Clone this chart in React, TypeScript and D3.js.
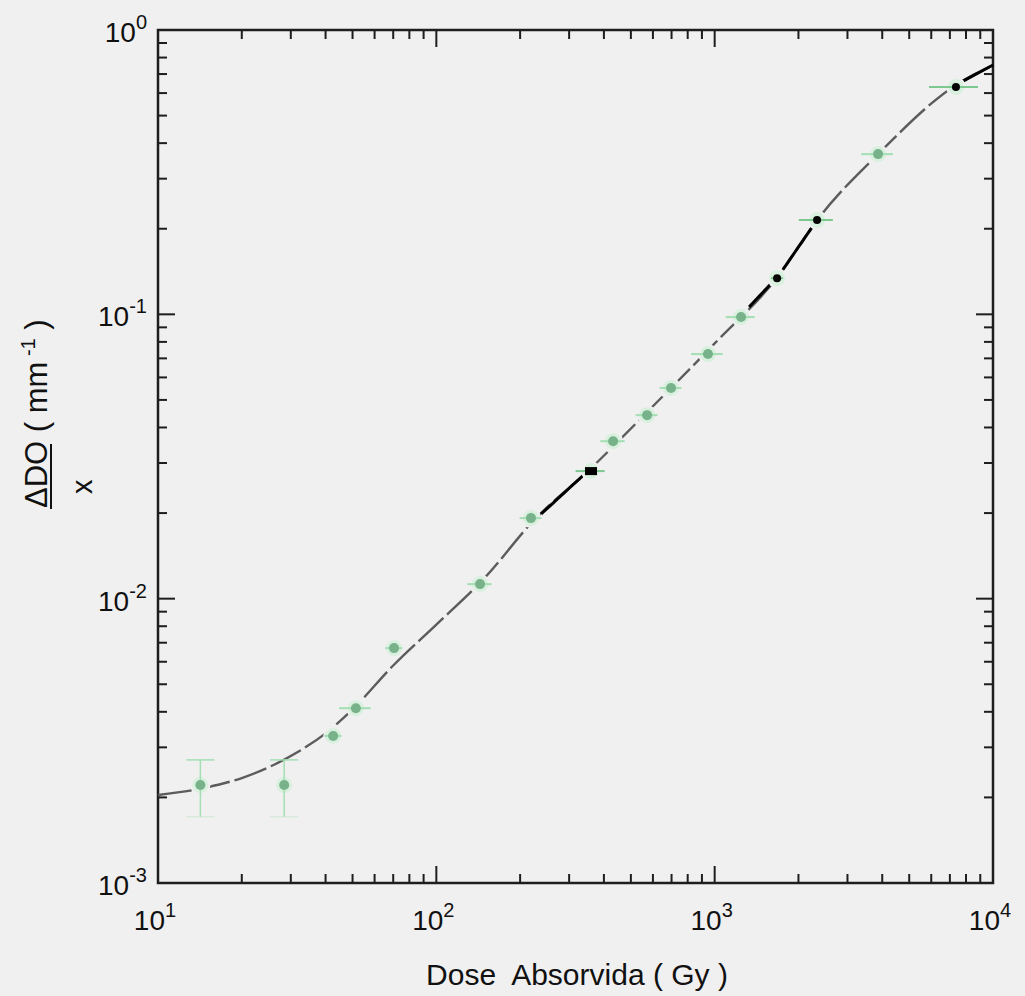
import React from "react";
import * as d3 from "d3";

// Measured response (ΔDO / x) versus absorbed dose
const dose = [14.2, 28.4, 42.6, 51.4, 70.5, 143.6, 218.8, 359.5, 431.7, 571.7, 697, 946, 1244, 1676, 2333, 3864, 7360];
const response = [0.00221, 0.00221, 0.00329, 0.00412, 0.0067, 0.01125, 0.0192, 0.0281, 0.0358, 0.0442, 0.0551, 0.0725, 0.0978, 0.134, 0.2146, 0.366, 0.63];
// relative dose uncertainty (%) and absolute response uncertainty
const doseErrPct = [0, 0, 7, 13, 7, 10, 9, 12, 10, 9, 9, 13, 12, 5, 14, 13, 20];
const responseErr = [0.0005, 0.0005, 0.0001, 0.0001, 0.0002, 0.0002, 0.0003, 0.0004, 0.0005, 0.0005, 0.0006, 0.0008, 0.001, 0.0015, 0.002, 0.004, 0.006];

// Fitted calibration curve
const fitDose = [10, 15, 20, 26, 32, 40, 50, 70, 100, 150, 220, 360, 600, 1000, 1700, 2333, 3864, 7360, 10000];
const fitResponse = [0.00204, 0.00217, 0.00234, 0.0026, 0.0029, 0.00336, 0.00408, 0.00582, 0.0081, 0.0119, 0.0185, 0.0288, 0.0475, 0.079, 0.137, 0.2146, 0.366, 0.641, 0.753];

// Sections of the fit printed in solid black
const blackFitRanges: [number, number][] = [[238, 350], [1330, 1620], [1760, 2300], [7600, 10000]];
// Points printed with dark markers (index into the data arrays)
const darkPoints = [7, 13, 14, 16];

const xDecades = [1, 2, 3, 4];
const yDecades = [0, -1, -2, -3];

const W = 1025;
const H = 996;
const M = { left: 158, right: 993, top: 30, bottom: 883 };
const FONT = "'Liberation Sans', Arial, sans-serif";

export default function App() {
  const x = d3.scaleLog().domain([10, 10000]).range([M.left, M.right]);
  const y = d3.scaleLog().domain([0.001, 1]).range([M.bottom, M.top]);

  const line = d3
    .line<number>()
    .x((_, i) => x(fitDose[i]))
    .y((_, i) => y(fitResponse[i]))
    .curve(d3.curveMonotoneX);
  const fitPath = line(fitDose) || "";

  // log-log interpolation along the fit, for the black sections
  const interp = (d: number) => {
    const ld = Math.log10(d);
    for (let i = 0; i < fitDose.length - 1; i++) {
      const a = Math.log10(fitDose[i]);
      const b = Math.log10(fitDose[i + 1]);
      if (ld >= a && ld <= b) {
        const t = (ld - a) / (b - a);
        return Math.pow(10, Math.log10(fitResponse[i]) * (1 - t) + Math.log10(fitResponse[i + 1]) * t);
      }
    }
    return fitResponse[fitResponse.length - 1];
  };
  const blackSegs = blackFitRanges.map(([a, b]) => {
    const n = 12;
    const pts: [number, number][] = d3.range(n + 1).map((k) => {
      const d = Math.pow(10, Math.log10(a) + (Math.log10(b) - Math.log10(a)) * (k / n));
      return [x(d), y(interp(d))];
    });
    return d3.line()(pts) || "";
  });

  const xTicks = x.ticks();
  const yTicks = y.ticks();
  const isMajor = (v: number) => Math.abs(Math.log10(v) - Math.round(Math.log10(v))) < 1e-6;
  const axisColor = "#1e1e1e";
  const green = "#a3dfb3";

  return (
    <svg
      width={W}
      height={H}
      style={{ position: "absolute", left: 0, top: 0, display: "block" }}
      fontFamily={FONT}
    >
      <rect x={0} y={0} width={W} height={H} fill="#f0f0f0" />

      {/* frame */}
      <rect
        x={M.left}
        y={M.top}
        width={M.right - M.left}
        height={M.bottom - M.top}
        fill="none"
        stroke={axisColor}
        strokeWidth={2.5}
      />

      {/* x ticks, bottom and top, pointing inward */}
      {xTicks.map((t, i) => {
        const len = isMajor(t) ? 17 : 9;
        const px = x(t);
        return (
          <g key={"xt" + i} stroke={axisColor} strokeWidth={2}>
            <line x1={px} x2={px} y1={M.bottom} y2={M.bottom - len} />
            <line x1={px} x2={px} y1={M.top} y2={M.top + len} />
          </g>
        );
      })}
      {/* y ticks, left and right */}
      {yTicks.map((t, i) => {
        const len = isMajor(t) ? 17 : 9;
        const py = y(t);
        return (
          <g key={"yt" + i} stroke={axisColor} strokeWidth={2}>
            <line x1={M.left} x2={M.left + len} y1={py} y2={py} />
            <line x1={M.right} x2={M.right - len} y1={py} y2={py} />
          </g>
        );
      })}

      {/* x tick labels */}
      {xDecades.map((e) => (
        <text key={"xl" + e} x={x(Math.pow(10, e)) - 3} y={930} fontSize={28} textAnchor="middle" fill="#111">
          10
          <tspan dy={-13} fontSize={20}>
            {e}
          </tspan>
        </text>
      ))}
      {/* y tick labels */}
      {yDecades.map((e) => (
        <text key={"yl" + e} x={M.left - 11} y={y(Math.pow(10, e)) + 12} fontSize={28} textAnchor="end" fill="#111">
          10
          <tspan dy={-13} fontSize={20}>
            {e === 0 ? "0" : "-" + Math.abs(e)}
          </tspan>
        </text>
      ))}

      {/* axis titles */}
      <text x={577} y={985} fontSize={30} textAnchor="middle" fill="#111" style={{ whiteSpace: "pre" }}>
        {"Dose  Absorvida ( Gy )"}
      </text>
      <g fill="#111">
        <text transform="translate(47,508) rotate(-90)" fontSize={31} style={{ whiteSpace: "pre" }}>
          {"ΔDO ( mm"}
          <tspan dy={-12} fontSize={20}>
            {" -1"}
          </tspan>
          <tspan dy={12}>{" )"}</tspan>
        </text>
        <line x1={51} x2={51} y1={444} y2={509} stroke="#111" strokeWidth={2} />
        <text transform="translate(92,494) rotate(-90)" fontSize={29}>
          x
        </text>
      </g>

      {/* fitted curve */}
      <path d={fitPath} fill="none" stroke="#5c5c5c" strokeWidth={2.4} strokeDasharray="34 5" />
      {blackSegs.map((d, i) => (
        <path key={"bs" + i} d={d} fill="none" stroke="#000" strokeWidth={3} />
      ))}

      {/* data points with uncertainties */}
      {dose.map((d, i) => {
        const px = x(d);
        const py = y(response[i]);
        const dark = darkPoints.includes(i);
        const xe = doseErrPct[i] / 100;
        const yHi = y(response[i] + responseErr[i]);
        const yLo = y(Math.max(response[i] - responseErr[i], 1e-4));
        return (
          <g key={"pt" + i}>
            <circle cx={px} cy={py} r={10} fill="#f0f0f0" />
            <circle cx={px} cy={py} r={8} fill="#d3f0da" opacity={0.8} />
            {xe > 0 && (
              <line x1={x(d * (1 - xe))} x2={x(d * (1 + xe))} y1={py} y2={py} stroke={dark ? "#7cc890" : green} strokeWidth={2} />
            )}
            {yHi < py - 6 && (
              <g stroke={green} strokeWidth={1.5}>
                <line x1={px} x2={px} y1={yHi} y2={yLo} />
                <line x1={px - 14} x2={px + 14} y1={yHi} y2={yHi} />
                <line x1={px - 14} x2={px + 14} y1={yLo} y2={yLo} opacity={0.3} />
              </g>
            )}
            {dark && i === 7 ? (
              <rect x={px - 6} y={py - 4} width={12} height={8} fill="#000" />
            ) : (
              <circle cx={px} cy={py} r={dark ? 4 : 5} fill={dark ? "#050505" : "#78b28a"} />
            )}
          </g>
        );
      })}
    </svg>
  );
}
